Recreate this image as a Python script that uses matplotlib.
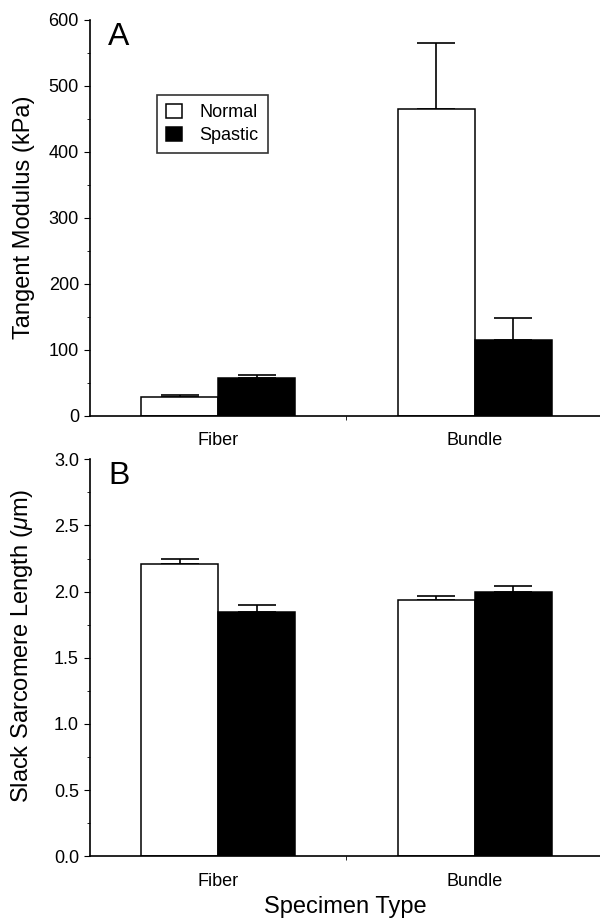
import numpy as np
import matplotlib
matplotlib.use('Agg')
import matplotlib.pyplot as plt
from matplotlib.ticker import MultipleLocator, FixedLocator

plt.rcParams['font.family'] = ['Liberation Sans', 'DejaVu Sans']
plt.rcParams['mathtext.fontset'] = 'custom'
plt.rcParams['mathtext.it'] = 'Liberation Sans:italic'
plt.rcParams['mathtext.rm'] = 'Liberation Sans'

# data
categories = ['Fiber', 'Bundle']
groups = ['Normal', 'Spastic']

modulus_normal = [29, 464]
modulus_spastic = [57, 114]
modulus_normal_err = [3, 100]
modulus_spastic_err = [5, 34]

slack_normal = [2.21, 1.94]
slack_spastic = [1.85, 2.00]
slack_normal_err = [0.04, 0.03]
slack_spastic_err = [0.05, 0.04]

fig = plt.figure(figsize=(6, 9.19), dpi=100)
axA = fig.add_axes([0.15, 0.5477, 0.855, 0.431])
axB = fig.add_axes([0.15, 0.0682, 0.855, 0.432])

x = np.arange(len(categories))
w = 0.3


def draw_panel(ax, normal, spastic, nerr, serr):
    ax.bar(x - w / 2, normal, w, color='white', edgecolor='black', linewidth=1.1, label=groups[0], zorder=2)
    ax.bar(x + w / 2, spastic, w, color='black', edgecolor='black', linewidth=1.1, label=groups[1], zorder=2)
    ax.errorbar(x - w / 2, normal, yerr=[np.zeros(len(x)), nerr], fmt='none', ecolor='black',
                elinewidth=1.2, capsize=13.5, capthick=1.2, zorder=1)
    ax.errorbar(x + w / 2, spastic, yerr=[np.zeros(len(x)), serr], fmt='none', ecolor='black',
                elinewidth=1.2, capsize=13.5, capthick=1.2, zorder=1)
    ax.set_xlim(-0.5, 1.5)
    ax.set_xticks(x)
    ax.set_xticklabels(categories, fontsize=13)
    ax.xaxis.set_minor_locator(FixedLocator([0.5]))
    ax.tick_params(axis='x', which='major', length=0, pad=12)
    ax.tick_params(axis='x', which='minor', length=3, direction='out')
    ax.tick_params(axis='y', which='major', length=4, direction='out', labelsize=13, pad=4)
    ax.tick_params(axis='y', which='minor', length=2, direction='out')
    for s in ['top', 'right']:
        ax.spines[s].set_visible(False)
    for s in ['left', 'bottom']:
        ax.spines[s].set_linewidth(1.2)


draw_panel(axA, modulus_normal, modulus_spastic, modulus_normal_err, modulus_spastic_err)
axA.set_ylim(0, 600)
axA.yaxis.set_major_locator(MultipleLocator(100))
axA.yaxis.set_minor_locator(MultipleLocator(50))
axA.set_ylabel('Tangent Modulus (kPa)', fontsize=17)
axA.yaxis.set_label_coords(-0.108, 0.5)
axA.text(0.035, 0.995, 'A', transform=axA.transAxes, fontsize=23, va='top', ha='left')
leg = axA.legend(loc='upper left', bbox_to_anchor=(0.131, 0.81), fontsize=13, frameon=True,
                 fancybox=False, edgecolor='black', handlelength=0.85, handleheight=0.85,
                 handletextpad=1.0, labelspacing=0.3, borderpad=0.5, borderaxespad=0)
leg.get_frame().set_linewidth(1.2)

draw_panel(axB, slack_normal, slack_spastic, slack_normal_err, slack_spastic_err)
axB.set_ylim(0, 3.0)
axB.yaxis.set_major_locator(MultipleLocator(0.5))
axB.yaxis.set_minor_locator(MultipleLocator(0.25))
axB.yaxis.set_major_formatter(matplotlib.ticker.FormatStrFormatter('%.1f'))
axB.set_ylabel(r'Slack Sarcomere Length ($\mu$m)', fontsize=17)
axB.yaxis.set_label_coords(-0.108, 0.53)
axB.text(0.035, 0.995, 'B', transform=axB.transAxes, fontsize=23, va='top', ha='left')

fig.text(0.575, 1 - 907 / 919, 'Specimen Type', fontsize=17, ha='center', va='center')

fig.savefig('out.png', dpi=100)
